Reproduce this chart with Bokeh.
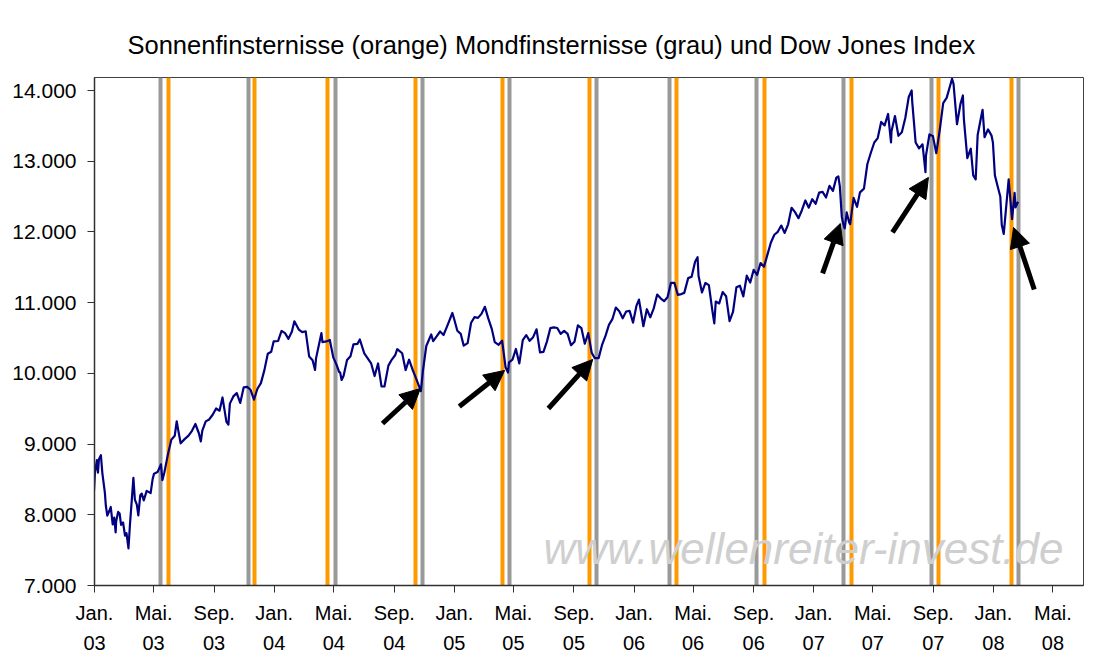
import pandas as pd
from bokeh.plotting import figure
from bokeh.models import (Range1d, FixedTicker, Arrow, NormalHead, Label,
                          ColumnDataSource, Title)
from bokeh.embed import file_html
from bokeh.resources import INLINE

# ---------------- data ----------------
dow_dates = [
 "2002-12-31","2003-01-02","2003-01-06","2003-01-08","2003-01-10","2003-01-14","2003-01-17","2003-01-22",
 "2003-01-24","2003-01-27","2003-01-31","2003-02-03","2003-02-07","2003-02-10","2003-02-13","2003-02-14",
 "2003-02-18","2003-02-21","2003-02-24","2003-02-28","2003-03-04","2003-03-07","2003-03-11","2003-03-14",
 "2003-03-17","2003-03-21","2003-03-24","2003-03-28","2003-03-31","2003-04-04","2003-04-07","2003-04-11",
 "2003-04-17","2003-04-25","2003-04-29","2003-05-02","2003-05-09","2003-05-16","2003-05-19","2003-05-23",
 "2003-05-30","2003-06-06","2003-06-13","2003-06-17","2003-06-20","2003-06-25","2003-07-03","2003-07-11",
 "2003-07-18","2003-07-25","2003-08-01","2003-08-05","2003-08-08","2003-08-15","2003-08-22","2003-08-29",
 "2003-09-05","2003-09-12","2003-09-18","2003-09-26","2003-09-30","2003-10-03","2003-10-10","2003-10-17",
 "2003-10-24","2003-10-31","2003-11-07","2003-11-14","2003-11-21","2003-11-28","2003-12-05","2003-12-12",
 "2003-12-19","2003-12-26","2003-12-31",
 "2004-01-09","2004-01-16","2004-01-23","2004-01-30","2004-02-06","2004-02-11","2004-02-20","2004-02-27",
 "2004-03-05","2004-03-12","2004-03-19","2004-03-24","2004-03-26","2004-04-06","2004-04-08","2004-04-16",
 "2004-04-23","2004-04-30","2004-05-07","2004-05-12","2004-05-14","2004-05-17","2004-05-21","2004-05-28",
 "2004-06-04","2004-06-10","2004-06-18","2004-06-23","2004-07-02","2004-07-09","2004-07-16","2004-07-23",
 "2004-07-30","2004-08-06","2004-08-12","2004-08-20","2004-08-27","2004-09-03","2004-09-07","2004-09-17",
 "2004-09-24","2004-10-01","2004-10-08","2004-10-15","2004-10-25","2004-10-29","2004-11-05","2004-11-15",
 "2004-11-19","2004-11-26","2004-12-03","2004-12-10","2004-12-17","2004-12-28","2004-12-31",
 "2005-01-07","2005-01-14","2005-01-20","2005-01-28","2005-02-04","2005-02-11","2005-02-18","2005-02-25",
 "2005-03-04","2005-03-11","2005-03-18","2005-03-24","2005-04-01","2005-04-08","2005-04-15","2005-04-20",
 "2005-04-22","2005-04-29","2005-05-06","2005-05-13","2005-05-20","2005-05-27","2005-06-03","2005-06-10",
 "2005-06-17","2005-06-24","2005-07-01","2005-07-08","2005-07-15","2005-07-22","2005-07-29","2005-08-05",
 "2005-08-12","2005-08-19","2005-08-26","2005-09-02","2005-09-09","2005-09-16","2005-09-23","2005-09-30",
 "2005-10-07","2005-10-13","2005-10-21","2005-10-28","2005-11-04","2005-11-11","2005-11-18","2005-11-25",
 "2005-12-02","2005-12-09","2005-12-16","2005-12-23","2005-12-30",
 "2006-01-06","2006-01-11","2006-01-13","2006-01-20","2006-01-27","2006-02-03","2006-02-10","2006-02-17",
 "2006-02-24","2006-03-03","2006-03-10","2006-03-17","2006-03-24","2006-03-31","2006-04-07","2006-04-13",
 "2006-04-21","2006-04-28","2006-05-05","2006-05-10","2006-05-12","2006-05-19","2006-05-26","2006-06-02",
 "2006-06-09","2006-06-13","2006-06-16","2006-06-23","2006-06-30","2006-07-07","2006-07-14","2006-07-21",
 "2006-07-28","2006-08-04","2006-08-11","2006-08-18","2006-08-25","2006-09-01","2006-09-08","2006-09-15",
 "2006-09-22","2006-09-29","2006-10-06","2006-10-13","2006-10-20","2006-10-27","2006-11-03","2006-11-10",
 "2006-11-17","2006-11-24","2006-12-01","2006-12-08","2006-12-15","2006-12-22","2006-12-29",
 "2007-01-05","2007-01-12","2007-01-19","2007-01-26","2007-02-02","2007-02-09","2007-02-16","2007-02-20",
 "2007-02-23","2007-02-27","2007-03-02","2007-03-05","2007-03-09","2007-03-14","2007-03-16","2007-03-23",
 "2007-03-30","2007-04-05","2007-04-13","2007-04-20","2007-04-27","2007-05-04","2007-05-11","2007-05-18",
 "2007-05-25","2007-06-01","2007-06-07","2007-06-08","2007-06-15","2007-06-22","2007-06-29","2007-07-06",
 "2007-07-13","2007-07-19","2007-07-20","2007-07-27","2007-08-03","2007-08-10","2007-08-16","2007-08-17",
 "2007-08-24","2007-08-31","2007-09-07","2007-09-14","2007-09-21","2007-09-28","2007-10-05","2007-10-09",
 "2007-10-12","2007-10-19","2007-10-26","2007-10-31","2007-11-02","2007-11-09","2007-11-16","2007-11-21",
 "2007-11-26","2007-11-30","2007-12-07","2007-12-10","2007-12-14","2007-12-21","2007-12-28","2007-12-31",
 "2008-01-04","2008-01-11","2008-01-15","2008-01-18","2008-01-22","2008-01-25","2008-02-01","2008-02-07",
 "2008-02-08","2008-02-13","2008-02-15","2008-02-20",
]
dow_values = [
 8341,8607,8774,8595,8785,8842,8586,8318,
 8131,7989,8053,8110,7864,7959,7752,7908,
 8041,8018,7858,7891,7705,7740,7524,7859,
 8141,8522,8215,8145,7992,8277,8300,8203,
 8338,8306,8502,8582,8604,8713,8491,8601,
 8850,9062,9117,9323,9200,9011,9070,9119,
 9188,9284,9153,9037,9191,9321,9348,9415,
 9503,9472,9659,9313,9275,9572,9674,9721,
 9582,9801,9809,9768,9628,9782,9862,10042,
 10278,10305,10453,
 10458,10600,10568,10488,10593,10737,10620,10584,
 10595,10240,10186,10048,10212,10570,10442,10452,
 10472,10226,10117,10019,10012,9906,9966,10188,
 10243,10410,10416,10479,10282,10213,10140,9962,
 10140,9815,9814,10110,10195,10260,10342,10284,
 10047,10193,10055,9933,9749,10027,10387,10550,
 10456,10522,10592,10543,10661,10854,10783,
 10603,10558,10392,10427,10716,10796,10785,10841,
 10941,10774,10629,10442,10404,10461,10087,10012,
 10157,10193,10345,10140,10471,10542,10460,10512,
 10623,10297,10303,10449,10640,10651,10641,10558,
 10600,10559,10397,10447,10679,10641,10419,10569,
 10292,10216,10215,10402,10530,10686,10766,10931,
 10877,10778,10875,10883,10718,
 10959,11043,10959,10667,10907,10793,10919,11115,
 11061,11021,11076,11279,11280,11109,11121,11138,
 11347,11367,11578,11642,11380,11144,11278,11247,
 10892,10706,11015,10989,11150,11091,10739,10868,
 11219,11240,11089,11381,11284,11464,11392,11560,
 11508,11679,11850,11960,12002,12090,11986,12108,
 12342,12280,12194,12307,12445,12343,12463,
 12398,12556,12566,12487,12653,12581,12768,12786,
 12647,12216,12114,12050,12276,12133,12110,12481,
 12354,12560,12612,12961,13120,13265,13327,13556,
 13507,13668,13267,13424,13639,13360,13409,13611,
 13908,14000,13851,13265,13182,13239,12845,13079,
 13379,13358,13114,13442,13821,13896,14067,14164,
 14093,13523,13807,13930,13596,13043,13177,12799,
 12743,13372,13626,13727,13340,13450,13366,13265,
 12800,12606,12501,12099,11971,12207,12743,12248,
 12182,12552,12348,12427,
]

solar_eclipses = ["2003-05-31","2003-11-23","2004-04-19","2004-10-14","2005-04-08","2005-10-03",
                  "2006-03-29","2006-09-22","2007-03-19","2007-09-11","2008-02-07"]
lunar_eclipses = ["2003-05-16","2003-11-09","2004-05-04","2004-10-28","2005-04-24","2005-10-17",
                  "2006-03-14","2006-09-07","2007-03-03","2007-08-28","2008-02-21"]

x_tick_dates = ["2003-01-01","2003-05-01","2003-09-01","2004-01-01","2004-05-01","2004-09-01",
                "2005-01-01","2005-05-01","2005-09-01","2006-01-01","2006-05-01","2006-09-01",
                "2007-01-01","2007-05-01","2007-09-01","2008-01-01","2008-05-01"]
x_tick_labels = ["Jan.\n03","Mai.\n03","Sep.\n03","Jan.\n04","Mai.\n04","Sep.\n04",
                 "Jan.\n05","Mai.\n05","Sep.\n05","Jan.\n06","Mai.\n06","Sep.\n06",
                 "Jan.\n07","Mai.\n07","Sep.\n07","Jan.\n08","Mai.\n08"]
y_ticks = [7000, 8000, 9000, 10000, 11000, 12000, 13000, 14000]
y_tick_labels = ["7.000","8.000","9.000","10.000","11.000","12.000","13.000","14.000"]

# arrows (tail -> tip)
arrow_start_dates = ["2004-08-08","2005-01-11","2005-07-11","2007-01-19","2007-06-10","2008-03-24"]
arrow_start_vals  = [9291, 9532, 9503, 11413, 11993, 11187]
arrow_end_dates   = ["2004-10-24","2005-04-13","2005-10-09","2007-02-24","2007-08-22","2008-02-11"]
arrow_end_vals    = [9786, 10041, 10197, 12120, 12771, 12064]

title_text = "Sonnenfinsternisse (orange) Mondfinsternisse (grau) und Dow Jones Index"
watermark = "www.wellenreiter-invest.de"

def ms(d):
    return int(pd.Timestamp(d).value // 10**6)

FONT = "Liberation Sans"

p = figure(width=1088, height=658, x_axis_type="datetime", output_backend="svg",
           toolbar_location=None, tools="",
           x_range=Range1d(ms("2003-01-01"), ms("2008-07-02")),
           y_range=Range1d(7000, 14184),
           min_border_left=94, min_border_right=5, min_border_top=77, min_border_bottom=73)

p.background_fill_color = "white"
p.border_fill_color = "white"
p.outline_line_color = "#404040"
p.outline_line_width = 1
p.xgrid.visible = False
p.ygrid.visible = False

t = Title(text=title_text, text_font=FONT, text_font_size="25.5px", text_font_style="normal",
          text_color="black", align="left", offset=33, standoff=38)
p.add_layout(t, "above")

# eclipse lines
p.vspan(x=pd.to_datetime(lunar_eclipses), line_color="#999999", line_width=4)
p.vspan(x=pd.to_datetime(solar_eclipses), line_color="#FF9900", line_width=4)

# Dow Jones
p.line(x=pd.to_datetime(dow_dates), y=dow_values, line_color="#000080", line_width=2.2,
       line_join="round")

# watermark
p.add_layout(Label(x=ms("2005-07-01"), y=7530, text=watermark, text_font=FONT,
                   text_font_style="italic", text_font_size="44px", text_color="#cfcfcf",
                   text_baseline="alphabetic"))

# arrows
asrc = ColumnDataSource(dict(
    x0=[ms(d) for d in arrow_start_dates], y0=arrow_start_vals,
    x1=[ms(d) for d in arrow_end_dates], y1=arrow_end_vals))
p.add_layout(Arrow(source=asrc, x_start="x0", y_start="y0", x_end="x1", y_end="y1",
                   line_color="black", line_width=5,
                   end=NormalHead(size=20, fill_color="black", line_color="black", line_width=1)))

# axes
p.xaxis.ticker = FixedTicker(ticks=[ms(d) for d in x_tick_dates])
p.xaxis.major_label_overrides = {ms(d): l for d, l in zip(x_tick_dates, x_tick_labels)}
p.yaxis.ticker = FixedTicker(ticks=y_ticks)
p.yaxis.major_label_overrides = {v: l for v, l in zip(y_ticks, y_tick_labels)}
for ax in (p.xaxis, p.yaxis):
    ax.axis_line_color = "#303030"
    ax.axis_line_width = 1.5
    ax.major_tick_line_color = "#303030"
    ax.major_tick_line_width = 1
    ax.major_tick_in = 0
    ax.major_tick_out = 7
    ax.minor_tick_line_color = None
    ax.major_label_text_font = FONT
    ax.major_label_text_font_size = "20px"
    ax.major_label_text_color = "black"
p.yaxis.major_label_text_font_size = "21px"
p.xaxis.major_label_standoff = 9
p.xaxis.major_label_text_line_height = 1.4
p.yaxis.major_label_standoff = 11

open("out.html", "w").write(file_html(p, INLINE))
